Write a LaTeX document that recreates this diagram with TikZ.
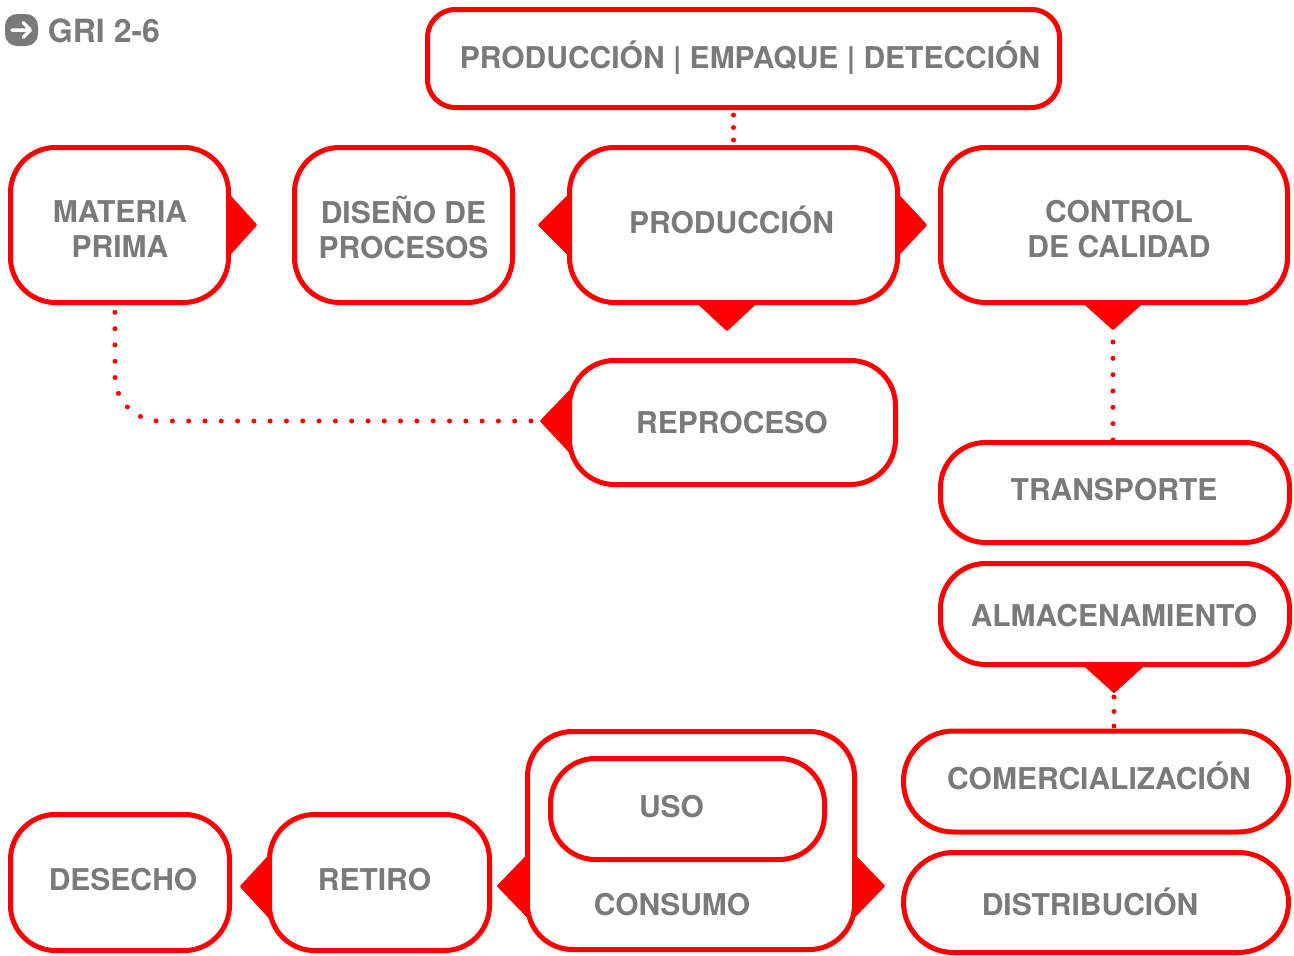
\documentclass[tikz,border=0pt]{standalone}
\usepackage{fontspec}
\setmainfont{TeX Gyre Heros}
\usetikzlibrary{calc}
\definecolor{rd}{HTML}{FF0000}
\definecolor{gr}{HTML}{7A7A7A}
\begin{document}
\begin{tikzpicture}[x=1pt,y=-1pt,
  box/.style={draw=rd, line width=5pt, rounded corners=45pt, fill=white, inner sep=0pt},
  lbl/.style={font=\fontsize{30}{35}\selectfont\bfseries, text=gr, inner sep=0pt, text height=21.6pt, text depth=0pt},
  lbl2/.style={font=\fontsize{30}{35}\selectfont\bfseries, text=gr, inner sep=0pt, align=center},
  tab/.style={fill=rd, draw=rd, line width=2pt, line join=round},
  dotl/.style={draw=rd, line width=5pt, line cap=round}]
\fill[white] (0,0) rectangle (1294,956);
\useasboundingbox (0,0) rectangle (1294,956);

% header
\fill[gr, rounded corners=12pt] (5,14) rectangle (38,46);
\draw[white, line width=3.5pt, line cap=round, line join=round] (12,30) -- (30,30) (23,22.5) -- (30.5,30) -- (23,37.5);
\node[lbl, font=\fontsize{32}{36}\selectfont\bfseries, text height=23pt] (gri) at (104,30.5) {GRI 2-6};

% boxes
\node[box, minimum width=632pt, minimum height=98pt, rounded corners=28pt] (top) at (743.5,58.5) {};
\node[box, minimum width=218pt, minimum height=155pt] (m) at (119.5,225) {};
\node[box, minimum width=218pt, minimum height=155pt] (d) at (403.5,225) {};
\node[box, minimum width=328pt, minimum height=155pt] (p) at (733.5,225) {};
\node[box, minimum width=347pt, minimum height=155pt] (c) at (1114,225) {};
\node[box, minimum width=326pt, minimum height=124pt] (r) at (732.5,422.5) {};
\node[box, minimum width=349pt, minimum height=100pt] (tr) at (1115,492.5) {};
\node[box, minimum width=349pt, minimum height=101pt] (a) at (1115,614) {};
\node[box, minimum width=385pt, minimum height=101pt, rounded corners=50pt] (co) at (1096,781.5) {};
\node[box, minimum width=385pt, minimum height=100pt, rounded corners=50pt] (di) at (1096,902.5) {};
\node[box, minimum width=327pt, minimum height=218pt] (k) at (691,840.5) {};
\node[box, minimum width=274pt, minimum height=101pt] (u) at (687.5,809) {};
\node[box, minimum width=219pt, minimum height=136pt] (de) at (120,882.5) {};
\node[box, minimum width=220pt, minimum height=136pt] (re) at (379.5,882.5) {};

% labels
\node[lbl] (topt) at (750,57.5) {PRODUCCIÓN | EMPAQUE | DETECCIÓN};
\node[lbl2] (mt) at (120,229) {MATERIA\\PRIMA};
\node[lbl2] (dt) at (403.5,227) {DISEÑO DE\\PROCESOS};
\node[lbl] (pt) at (731.5,222.5) {PRODUCCIÓN};
\node[lbl2] (ct) at (1119,229) {CONTROL\\DE CALIDAD};
\node[lbl] (rt) at (732,422.5) {REPROCESO};
\node[lbl] (trt) at (1114,489.5) {TRANSPORTE};
\node[lbl] (at) at (1114,615.5) {ALMACENAMIENTO};
\node[lbl] (cot) at (1099,778.5) {COMERCIALIZACIÓN};
\node[lbl] (dit) at (1090,905) {DISTRIBUCIÓN};
\node[lbl] (ut) at (671.5,806.5) {USO};
\node[lbl] (kt) at (672,904.5) {CONSUMO};
\node[lbl] (det) at (123,879.5) {DESECHO};
\node[lbl] (ret) at (374.5,879.5) {RETIRO};

% tabs
\fill[tab] ($(m.east)+(-3,-31)$) -- ($(m.east)+(25,0)$) -- ($(m.east)+(-3,31)$) -- cycle;
\fill[tab] ($(p.west)+(3,-31)$) -- ($(p.west)+(-28,0)$) -- ($(p.west)+(3,31)$) -- cycle;
\fill[tab] ($(p.east)+(-3,-31)$) -- ($(p.east)+(26,0)$) -- ($(p.east)+(-3,31)$) -- cycle;
\fill[tab] ($(p.south)+(-36.5,-3)$) -- ($(p.south)+(-6.5,25)$) -- ($(p.south)+(23.5,-3)$) -- cycle;
\fill[tab] ($(c.south)+(-31,-3)$) -- ($(c.south)+(-1,24)$) coordinate (tipC) -- ($(c.south)+(29,-3)$) -- cycle;
\fill[tab] ($(r.west)+(3,-31.5)$) -- ($(r.west)+(-26,-1.5)$) coordinate (tipR) -- ($(r.west)+(3,29.5)$) -- cycle;
\fill[tab] ($(a.south)+(-32,-3)$) -- ($(a.south)+(-1,25)$) coordinate (tipA) -- ($(a.south)+(30,-3)$) -- cycle;
\fill[tab] ($(k.west)+(3,14.5)$) -- ($(k.west)+(-27,45.5)$) -- ($(k.west)+(3,76.5)$) -- cycle;
\fill[tab] ($(k.east)+(-3,14.5)$) -- ($(k.east)+(27,45.5)$) -- ($(k.east)+(-3,76.5)$) -- cycle;
\fill[tab] ($(re.west)+(3,-27.5)$) -- ($(re.west)+(-26,4)$) -- ($(re.west)+(3,35.5)$) -- cycle;

% dotted connectors
\draw[dotl, dash pattern=on 0pt off 12.5pt] ($(p.north |- top.south)+(0,5)$) -- (p.north);
\draw[dotl, dash pattern=on 0pt off 16.33pt] ($(tipC)+(0,13)$) -- (tipC |- tr.north);
\draw[dotl, dash pattern=on 0pt off 14.5pt] ($(tipA)+(0,5)$) -- (tipA |- co.north);
\draw[dotl, dash pattern=on 0pt off 16.3pt, rounded corners=45pt] ($(tipR)+(-10,0)$) -| ($(m.south)+(-4.5,4)$);
\end{tikzpicture}
\end{document}
